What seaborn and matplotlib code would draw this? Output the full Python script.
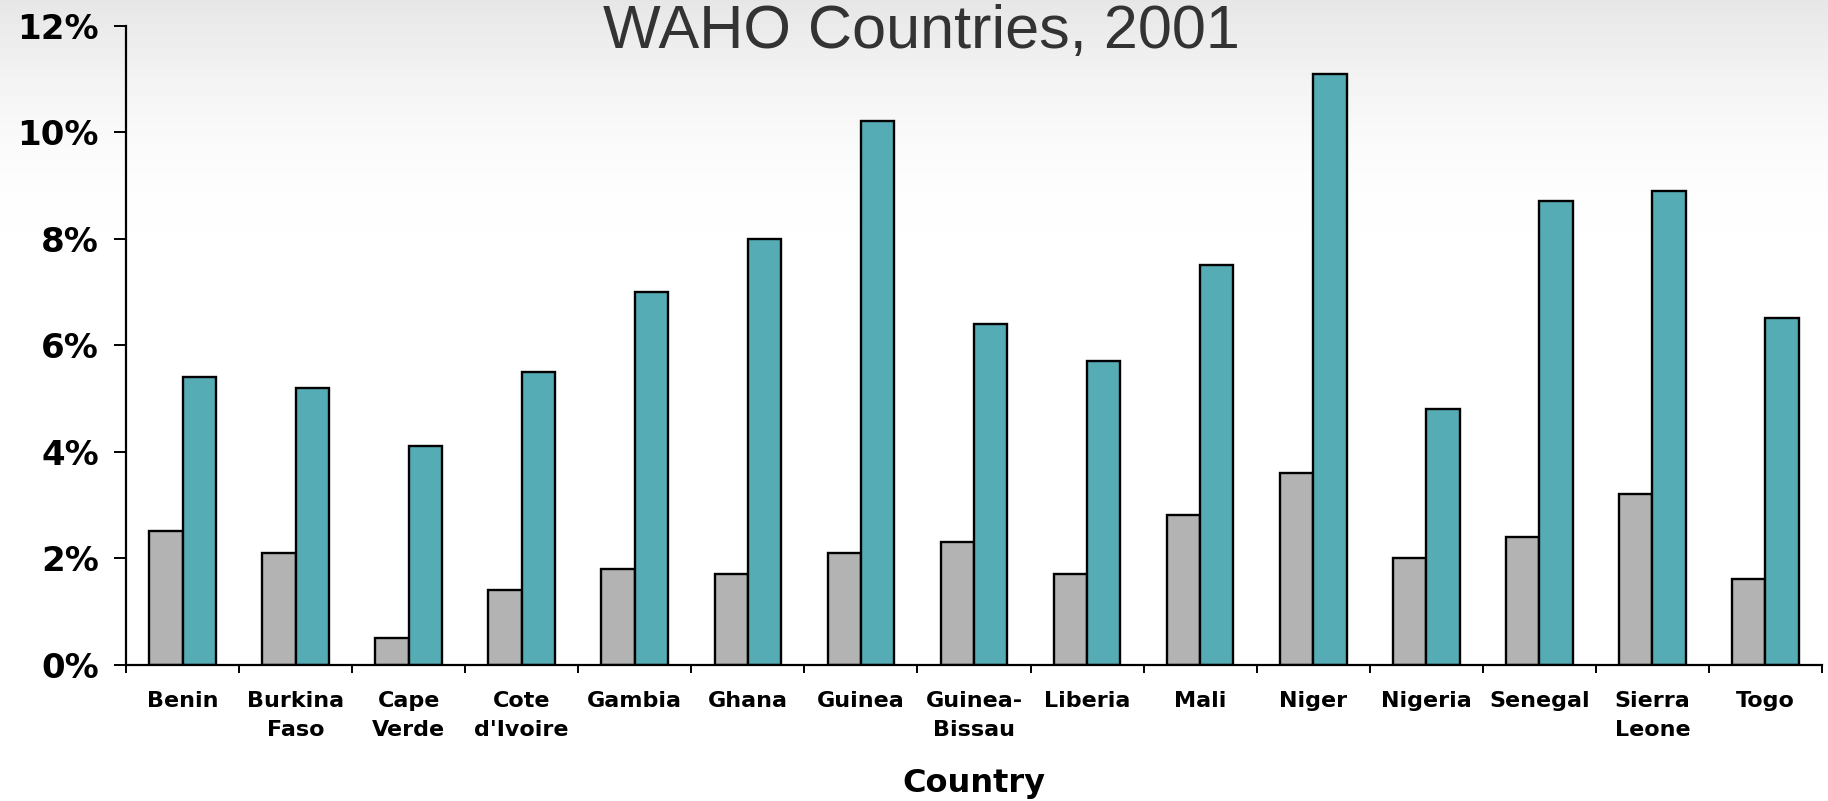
import matplotlib
matplotlib.use("Agg")
import matplotlib.pyplot as plt
import seaborn as sns
import numpy as np
import pandas as pd
from matplotlib.ticker import FuncFormatter

# ---- data ----
countries = ["Benin", "Burkina\nFaso", "Cape\nVerde", "Cote\nd'Ivoire", "Gambia",
             "Ghana", "Guinea", "Guinea-\nBissau", "Liberia", "Mali", "Niger",
             "Nigeria", "Senegal", "Sierra\nLeone", "Togo"]
series_gray = [2.5, 2.1, 0.5, 1.4, 1.8, 1.7, 2.1, 2.3, 1.7, 2.8, 3.6, 2.0, 2.4, 3.2, 1.6]
series_teal = [5.4, 5.2, 4.1, 5.5, 7.0, 8.0, 10.2, 6.4, 5.7, 7.5, 11.1, 4.8, 8.7, 8.9, 6.5]
series_names = ["Series 1", "Series 2"]
y_ticks = [0, 2, 4, 6, 8, 10, 12]
title = "WAHO Countries, 2001"
x_label = "Country"

df = pd.DataFrame({
    "country": countries * 2,
    "series": [series_names[0]] * len(countries) + [series_names[1]] * len(countries),
    "value": series_gray + series_teal,
})

sns.set_style("white")
plt.rcParams['font.family'] = ['DejaVu Sans']
plt.rcParams['text.color'] = 'black'
plt.rcParams['xtick.color'] = 'black'
plt.rcParams['ytick.color'] = 'black'
plt.rcParams['axes.labelcolor'] = 'black'

W, H = 1828, 801
fig = plt.figure(figsize=(W / 100, H / 100), dpi=100)

# background gradient
bg = fig.add_axes([0, 0, 1, 1], zorder=0)
rows = np.arange(H)
t = np.clip(rows / 230.0, 0, 1)
t = 1 - (1 - t) ** 1.8
top = np.array([0.905, 0.905, 0.905])
bot = np.array([1.0, 1.0, 1.0])
img = (top[None, :] * (1 - t[:, None]) + bot[None, :] * t[:, None])[:, None, :]
img = np.repeat(img, 4, axis=1)
bg.imshow(img, aspect='auto', extent=[0, 1, 0, 1], origin='upper')
bg.axis('off')

left, right = 126 / W, 1822 / W
bottom, topy = 1 - 664.5 / H, 1 - 25.6 / H
ax = fig.add_axes([left, bottom, right - left, topy - bottom], zorder=1)
ax.patch.set_alpha(0)

sns.barplot(data=df, x="country", y="value", hue="series",
            palette=["#b3b3b3", "#56acb4"], saturation=1,
            width=0.59, gap=0, edgecolor="black", linewidth=1.7,
            legend=False, ax=ax)

ax.set_xlim(-0.5, len(countries) - 0.5)
ax.set_ylim(0, 12)
ax.set_yticks(y_ticks)
ax.yaxis.set_major_formatter(FuncFormatter(lambda v, p: f"{v:.0f}%"))

for s in ["top", "right"]:
    ax.spines[s].set_visible(False)
for s in ["left", "bottom"]:
    ax.spines[s].set_color("black")
    ax.spines[s].set_linewidth(1.6)

ax.set_xticks(np.arange(-0.5, len(countries), 1), minor=True)
ax.tick_params(axis='x', which='major', length=0, pad=19, labelsize=16)
ax.tick_params(axis='x', which='minor', length=5.5, width=1.4, color='black', direction='out', bottom=True)
ax.tick_params(axis='y', which='major', length=8.5, width=1.4, color='black', direction='out',
               left=True, pad=11, labelsize=24.5)
for lab in ax.get_xticklabels():
    lab.set_fontweight('bold')
    lab.set_linespacing(1.6)
for lab in ax.get_yticklabels():
    lab.set_fontweight('bold')

ax.set_xlabel(x_label, fontsize=23, fontweight='bold', labelpad=20)
ax.set_ylabel("")

fig.text(0.504, 1 - 48 / H, title, ha='center', va='baseline', fontsize=44,
         family=['Liberation Sans', 'DejaVu Sans'], color='#333333', zorder=3)

fig.savefig("out.png", dpi=100)
